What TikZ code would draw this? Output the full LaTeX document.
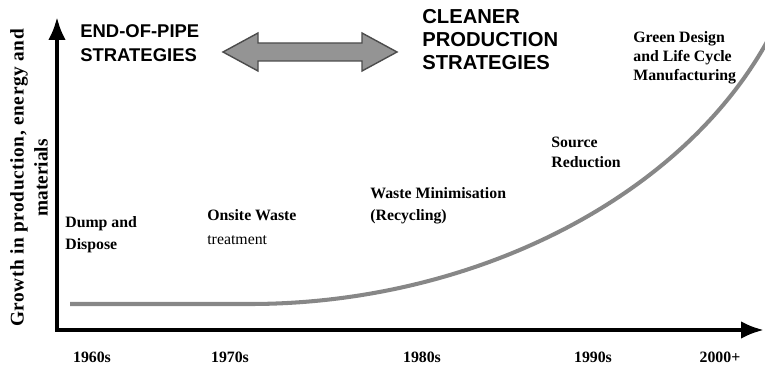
\documentclass[tikz,border=0pt]{standalone}
\usepackage{fontspec}
\setmainfont{Liberation Serif}
\setsansfont{Liberation Sans}
\usetikzlibrary{arrows.meta}
\tikzset{%
    axis/.style={line width=2.3pt,{Latex[length=13pt,width=10pt]}-{Latex[length=13pt,width=10pt]}},
    growth/.style={line width=2.3pt,draw=black!47},
    strategy/.style={inner sep=0pt,anchor=north west,align=left,font=\sffamily\bfseries\fontsize{10.5}{14}\selectfont},
    phase/.style={inner sep=0pt,anchor=north west,align=left,font=\bfseries\fontsize{9}{12.5}\selectfont},
    decade/.style={inner sep=0pt,anchor=base,font=\bfseries\fontsize{9}{11}\selectfont},
    shift arrow/.style={fill=black!42,draw=black!70,line width=0.8pt},
}
\begin{document}
\begin{tikzpicture}[x=0.02cm,y=-0.02cm]
        \useasboundingbox (0,0) rectangle (765,368);

        % axes
        \draw[axis] (57,17) coordinate (ytip) -- (57,330) coordinate (O) -- (764,330) coordinate (xtip);
        \node[rotate=90,align=center,inner sep=0pt,font=\bfseries\fontsize{11}{13.6}\selectfont] (ylabel) at (29,178) {{\addfontfeature{LetterSpace=3}Growth in production, energy and}\\materials};

        % decades
        \node[decade] (d60) at (92,362) {1960s};
        \node[decade] (d70) at (230,362) {1970s};
        \node[decade] (d80) at (422,362) {1980s};
        \node[decade] (d90) at (593,362) {1990s};
        \node[decade] (d00) at (720,362) {2000+};

        % growth curve
        \draw[growth] (70,304) -- (250,304) .. controls (470,304) and (680,200) .. (768,40);

        % strategies
        \node[strategy] (eop) at (80,24) {END-OF-PIPE\\STRATEGIES};
        \node[strategy,font=\sffamily\bfseries\fontsize{11.5}{13}\selectfont] (cp) at (422,9) {CLEANER\\PRODUCTION\\STRATEGIES};
        \draw[shift arrow] (223,52) -- (258,33) -- (258,43) -- (362,43) -- (362,33) -- (397,52)
              -- (362,71) -- (362,61) -- (258,61) -- (258,71) -- cycle;

        % phases
        \node[phase] (dump) at (65,216) {Dump and\\Dispose};
        \node[phase,font=\bfseries\fontsize{9}{13.6}\selectfont] (onsite) at (207,209) {Onsite Waste\\\mdseries treatment};
        \node[phase] (wmin) at (370,187) {Waste Minimisation\\(Recycling)};
        \node[phase,font=\bfseries\fontsize{9}{11.3}\selectfont] (source) at (551,137) {Source\\Reduction};
        \node[phase,font=\bfseries\fontsize{9}{10.8}\selectfont] (green) at (633,31) {Green Design\\and Life Cycle\\Manufacturing};
      \end{tikzpicture}
\end{document}
